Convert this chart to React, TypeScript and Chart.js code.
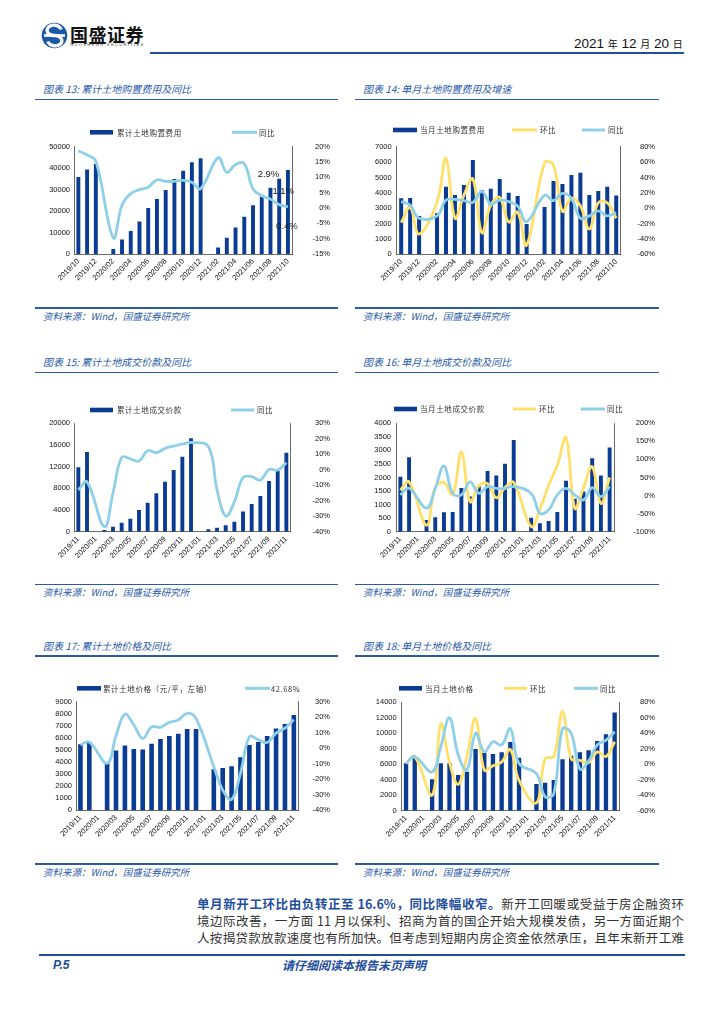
import React, { useEffect, useRef } from 'react';
import { Chart, registerables } from 'chart.js';
Chart.register(...registerables);

const NAVY = '#0b3c93';
const SKY = '#8fd0e8';
const GOLD = '#ffe06a';
const PAGE_BLUE = '#2a5aa8';
const AXIS = '#444';
const CJK = "'Noto Sans CJK SC', 'Noto Sans', sans-serif";
const LATIN = "'Liberation Sans', Arial, sans-serif";

// ---------- categories ----------
const monthsOct = ['2019/10','2019/11','2019/12','2020/01','2020/02','2020/03','2020/04','2020/05','2020/06','2020/07','2020/08','2020/09','2020/10','2020/11','2020/12','2021/01','2021/02','2021/03','2021/04','2021/05','2021/06','2021/07','2021/08','2021/09','2021/10'];
const monthsNov = ['2019/11','2019/12','2020/01','2020/02','2020/03','2020/04','2020/05','2020/06','2020/07','2020/08','2020/09','2020/10','2020/11','2020/12','2021/01','2021/02','2021/03','2021/04','2021/05','2021/06','2021/07','2021/08','2021/09','2021/10','2021/11'];

// ---------- chart 13: cumulative land purchase cost ----------
const c13Cost = [35900, 39400, 41900, null, 2300, 6800, 10700, 15100, 21400, 25600, 29800, 34900, 38800, 42700, 44600, null, 3000, 7600, 12300, 17400, 22700, 26700, 30900, 35100, 39100];
const c13Yoy = [18.7, 17.3, 15.3, null, -9.7, 1.0, 4.7, 6.0, 6.8, 9.2, 8.7, 8.7, 9.0, 8.4, 6.3, null, 16.4, 11.6, 14.2, 14.5, 6.2, 4.0, 2.9, 1.1, 0.4];
const c13LeftTicks = { min: 0, max: 50000, step: 5000 };
const c13RightTicks = { min: -15, max: 20, step: 5 };

// ---------- chart 14: monthly land purchase cost ----------
const c14Cost = [3640, 3660, 2490, null, 2670, 4400, 3860, 4510, 6140, 4190, 4270, 4900, 4010, 3800, 1970, null, 3080, 4770, 4580, 5160, 5310, 3860, 4120, 4400, 3820];
const c14Mom = [-18.8, 1, -33.6, null, 8, 65, -13, 17, 38, -32, 4, 14, -18, -5, -48, null, 59, 56, -4, 13, 3, -27, 7, 7, -13];
const c14Yoy = [8.5, 4, -13, null, -10, 10.6, 11.5, 9.8, 7.6, 22, 5.4, 10.6, 8.5, 2.9, -17.5, null, 17, 9.8, 19.3, 12.8, -13, -10, -3.6, -10, -6];
const c14LeftTicks = { min: 0, max: 7000, step: 1000 };
const c14RightTicks = { min: -60, max: 80, step: 20 };

// ---------- chart 15: cumulative land transaction value ----------
const c15Value = [11880, 14700, null, 300, 920, 1660, 2400, 4000, 5350, 7080, 9230, 11380, 13850, 17230, null, 430, 740, 1170, 1850, 3750, 5100, 6580, 9350, 11260, 14580];
const c15Yoy = [-13, -7.8, null, -36.8, -15, 8, 7, 5.6, 12.3, 11, 13.8, 15.3, 16.6, 17.6, null, 15, -13, -30, -20.7, -5, -4.5, -6.7, 0.2, -0.2, 4.5];
const c15LeftTicks = { min: 0, max: 20000, step: 2000 };
const c15RightTicks = { min: -40, max: 30, step: 10 };

// ---------- chart 16: monthly land transaction value ----------
const c16Value = [2030, 2745, null, 430, 530, 714, 726, 1612, 1300, 1680, 2240, 2070, 2510, 3385, null, 515, 310, 395, 725, 1880, 1220, 1480, 2710, 2070, 3110];
const c16Mom = [15, 38, null, -82, 23, 36, 2, 121, -17, 27, 33, -6, 22, 36, null, -86, -38, 28, 84, 160, -35, 21, 80, -22, 50];
const c16Yoy = [2, 20, null, -35, 20, 82, 6, 2, 38, 6, 25, 20, 20, 25, null, 6, -49, -40, 2, 20, 2, -12, 22, -3, 25];
const c16LeftTicks = { min: 0, max: 4000, step: 500 };
const c16RightTicks = { min: -100, max: 200, step: 50 };

// ---------- chart 17: cumulative land price ----------
const c17Price = [5470, 5660, null, 3900, 4950, 5360, 5080, 5030, 5520, 5910, 6160, 6350, 6740, 6740, null, 3400, 3510, 3650, 4390, 5410, 5660, 6160, 6770, 7150, 7900];
const c17Yoy = [2.1, 4, null, -9.7, 8, 22, 15, 6.4, 13.7, 13.5, 16.7, 18.2, 22.5, 19.3, null, -12, -27, -33, -16, 7.5, 5.4, 3.7, 9.7, 12.9, 18.3];
const c17LeftTicks = { min: 0, max: 9000, step: 1000 };
const c17RightTicks = { min: -40, max: 30, step: 10 };

// ---------- chart 18: monthly land price ----------
const c18Price = [6120, 6770, null, 4050, 6120, 6120, 4610, 5040, 7970, 7500, 7330, 7540, 8880, 6850, null, 3450, 3620, 3970, 6640, 7110, 7540, 7800, 9010, 9870, 12670];
const c18Mom = [1, 10, null, -40, 52, 2, -26, 10, 59, -7.5, -2, 3, 19, -21, null, -50, 7, 10, 68, 7, 5, 2, 16, 10, 29];
const c18Yoy = [1, 10, null, -10, 23, 60, 12, -7.5, 40, 16, 29, 25, 46, 1, null, -12, -42, -38, 46, 40, -6, 4, 25, 31, 42];
const c18LeftTicks = { min: 0, max: 14000, step: 2000 };
const c18RightTicks = { min: -60, max: 80, step: 20 };

type Geo = {
  left: number; width: number;
  plotLeft: number; plotRight: number; plotTop: number; plotBottom: number;
  legendY: number; leftPad: number; rightPad: number;
};
type LegendItem = { x: number; w: number; tx: number };
type Series = { kind: 'bar' | 'line'; label: string; data: (number | null)[]; color: string };
type PointLabel = { index: number; dx: number; dy: number };

function makeLegendPlugin(items: LegendItem[], y: number, ox: number, oy: number) {
  return {
    id: 'sheetLegend',
    afterDraw(chart: any) {
      const ctx = chart.ctx as CanvasRenderingContext2D;
      ctx.save();
      ctx.font = `7.5px ${CJK}`;
      (ctx as any).letterSpacing = '0.6px';
      ctx.textBaseline = 'middle';
      chart.data.datasets.forEach((ds: any, i: number) => {
        const it = items[i];
        if (!it) return;
        const cy = y - oy;
        if (ds.type === 'bar') {
          ctx.fillStyle = ds.backgroundColor;
          ctx.fillRect(it.x - ox, cy - 2.3, it.w, 4.6);
        } else {
          ctx.strokeStyle = ds.borderColor;
          ctx.lineWidth = 3;
          ctx.beginPath();
          ctx.moveTo(it.x - ox, cy);
          ctx.lineTo(it.x - ox + it.w, cy);
          ctx.stroke();
        }
        ctx.fillStyle = '#333';
        ctx.fillText(ds.label, it.tx - ox, cy + 0.5);
      });
      ctx.restore();
    },
  };
}

function makePointLabelPlugin(datasetIndex: number, labels: PointLabel[]) {
  return {
    id: 'pointLabels',
    afterDatasetsDraw(chart: any) {
      const ctx = chart.ctx as CanvasRenderingContext2D;
      const meta = chart.getDatasetMeta(datasetIndex);
      const values = chart.data.datasets[datasetIndex].data;
      ctx.save();
      ctx.font = `9.5px ${LATIN}`;
      ctx.fillStyle = '#222';
      ctx.textAlign = 'center';
      ctx.textBaseline = 'middle';
      labels.forEach((l) => {
        const el = meta.data[l.index];
        const v = values[l.index];
        if (!el || v == null) return;
        ctx.fillText(`${Number(v).toFixed(1)}%`, el.x + l.dx, el.y + l.dy);
      });
      ctx.restore();
    },
  };
}

function DualChart(props: {
  geo: Geo; labels: string[]; series: Series[];
  leftTicks: { min: number; max: number; step: number };
  rightTicks: { min: number; max: number; step: number };
  legend: LegendItem[]; barPct: number; pointLabels?: PointLabel[];
}) {
  const ref = useRef<HTMLCanvasElement>(null);
  const g = props.geo;
  const canvasTop = Math.round(g.plotTop - 32);
  const canvasHeight = Math.round(g.plotBottom + 52) - canvasTop;

  useEffect(() => {
    const tickFont = { size: 7.5, family: LATIN };
    const nLines = props.series.filter((s) => s.kind === 'line').length;
    let lineOrder = nLines;
    const datasets: any[] = props.series.map((s) => {
      if (s.kind === 'bar') {
        return {
          type: 'bar', label: s.label, data: s.data, backgroundColor: s.color,
          yAxisID: 'y', order: 10, barPercentage: props.barPct, categoryPercentage: 1,
        };
      }
      lineOrder -= 1;
      return {
        type: 'line', label: s.label, data: s.data, borderColor: s.color, backgroundColor: s.color,
        borderWidth: 2.8, pointRadius: 0, tension: 0.4, spanGaps: true, fill: false,
        yAxisID: 'y1', order: lineOrder,
      };
    });
    const plugins: any[] = [makeLegendPlugin(props.legend, g.legendY, g.left, canvasTop)];
    if (props.pointLabels) {
      const idx = props.series.findIndex((s) => s.kind === 'line');
      plugins.push(makePointLabelPlugin(idx, props.pointLabels));
    }
    const chart = new Chart(ref.current as HTMLCanvasElement, {
      type: 'bar',
      data: { labels: props.labels, datasets },
      plugins,
      options: {
        animation: false,
        responsive: false,
        layout: { padding: { top: g.plotTop - canvasTop, left: 0, right: 0, bottom: 0 } },
        plugins: { legend: { display: false }, tooltip: { enabled: false } },
        scales: {
          x: {
            offset: true,
            grid: { display: false, drawTicks: false },
            border: { display: true, color: AXIS, width: 0.8 },
            ticks: {
              autoSkip: false, maxRotation: 45, minRotation: 45, padding: 3,
              font: tickFont, color: '#111',
              callback: function (this: any, v: any, i: number) {
                return i % 2 === 0 ? this.getLabelForValue(v) : '';
              },
            },
            afterFit: (s: any) => { s.height = canvasTop + canvasHeight - g.plotBottom; },
          },
          y: {
            position: 'left',
            min: props.leftTicks.min, max: props.leftTicks.max,
            grid: { display: false, drawTicks: false },
            border: { display: true, color: AXIS, width: 0.8 },
            ticks: {
              stepSize: props.leftTicks.step, padding: g.leftPad, font: tickFont, color: '#111',
              callback: (v: any) => String(Math.round(Number(v))),
            },
            afterFit: (s: any) => { s.width = g.plotLeft - g.left; },
          },
          y1: {
            position: 'right',
            min: props.rightTicks.min, max: props.rightTicks.max,
            grid: { display: false, drawTicks: false },
            border: { display: true, color: AXIS, width: 0.8 },
            ticks: {
              stepSize: props.rightTicks.step, padding: g.rightPad, font: tickFont, color: '#111',
              crossAlign: 'far',
              callback: (v: any) => `${Math.round(Number(v))}%`,
            },
            afterFit: (s: any) => { s.width = g.left + g.width - g.plotRight; },
          },
        },
      } as any,
    } as any);
    return () => chart.destroy();
  }, []);

  return (
    <canvas
      ref={ref}
      width={g.width}
      height={canvasHeight}
      style={{ position: 'absolute', left: g.left, top: canvasTop, width: g.width, height: canvasHeight }}
    />
  );
}

function Txt(props: { x: number; y: number; h?: number; style?: React.CSSProperties; children: React.ReactNode }) {
  const h = props.h ?? 14;
  return (
    <div style={{ position: 'absolute', left: props.x, top: props.y - h / 2, height: h, lineHeight: `${h}px`, whiteSpace: 'nowrap', ...props.style }}>
      {props.children}
    </div>
  );
}

function HLine(props: { x1: number; x2: number; y: number; t?: number; color?: string }) {
  const t = props.t ?? 1.5;
  return <div style={{ position: 'absolute', left: props.x1, top: props.y - t / 2, width: props.x2 - props.x1, height: t, background: props.color ?? PAGE_BLUE }} />;
}

const titleStyle: React.CSSProperties = { fontFamily: CJK, fontStyle: 'italic', fontSize: 10, color: PAGE_BLUE };
const sourceStyle: React.CSSProperties = { fontFamily: CJK, fontStyle: 'italic', fontSize: 9.5, color: PAGE_BLUE };

function Section(props: { lx: number; rx: number; titleY: number; lineY: number; srcLineY: number; title: string }) {
  return (
    <>
      <Txt x={props.lx + 8} y={props.titleY} style={titleStyle}>{props.title}</Txt>
      <HLine x1={props.lx} x2={props.rx} y={props.lineY} />
      <HLine x1={props.lx} x2={props.rx} y={props.srcLineY} />
      <Txt x={props.lx + 8} y={props.srcLineY + 7.5} style={sourceStyle}>资料来源：Wind，国盛证券研究所</Txt>
    </>
  );
}

const geo13: Geo = { left: 35, width: 295, plotLeft: 74, plotRight: 292.3, plotTop: 146.7, plotBottom: 254, legendY: 132.3, leftPad: 4, rightPad: 6.5 };
const geo14: Geo = { left: 355, width: 300, plotLeft: 396.7, plotRight: 620.7, plotTop: 146.7, plotBottom: 254.3, legendY: 130, leftPad: 5, rightPad: 4.5 };
const geo15: Geo = { left: 35, width: 295, plotLeft: 74, plotRight: 290.7, plotTop: 423.3, plotBottom: 531.7, legendY: 410, leftPad: 4, rightPad: 8 };
const geo16: Geo = { left: 355, width: 300, plotLeft: 396, plotRight: 614, plotTop: 423.3, plotBottom: 531.7, legendY: 409, leftPad: 5, rightPad: 7 };
const geo17: Geo = { left: 35, width: 295, plotLeft: 76, plotRight: 298.3, plotTop: 701.7, plotBottom: 810.3, legendY: 688.3, leftPad: 4, rightPad: 6 };
const geo18: Geo = { left: 355, width: 300, plotLeft: 401.7, plotRight: 619, plotTop: 702.3, plotBottom: 810.7, legendY: 688.3, leftPad: 5, rightPad: 6 };

export default function App() {
  const paraBase: React.CSSProperties = {
    position: 'absolute', left: 197, width: 487, height: 17, lineHeight: '17px',
    fontFamily: CJK, fontSize: 12.5, color: '#333', textAlign: 'justify', textAlignLast: 'justify' as any, whiteSpace: 'nowrap',
  };
  return (
    <div style={{ position: 'absolute', left: 0, top: 0, width: 724, height: 1024, background: '#fff', overflow: 'hidden' }}>
      {/* header */}
      <svg style={{ position: 'absolute', left: 41, top: 22 }} width={27} height={27} viewBox="0 0 27 27">
        <circle cx={13.5} cy={13.5} r={12.8} fill="#1d57a8" />
        <path d="M20 7.5 A7 5.2 0 1 0 13.5 13.5 A7 5.2 0 1 1 7 19.5" stroke="#fff" strokeWidth={3.4} fill="none" />
        <rect x={3} y={12.2} width={21} height={2.6} fill="#fff" />
      </svg>
      <Txt x={70} y={33.5} h={20} style={{ fontFamily: CJK, fontWeight: 700, fontSize: 18, color: '#111', letterSpacing: 0.5 }}>国盛证券</Txt>
      <Txt x={70} y={45} h={6} style={{ fontFamily: LATIN, fontSize: 4.2, color: '#444', letterSpacing: 1.25 }}>GUOSHENG SECURITIES</Txt>
      <Txt x={574} y={43} h={16} style={{ color: '#111' }}>
        <span style={{ fontFamily: "'Liberation Sans Narrow', 'Liberation Sans', sans-serif", fontSize: 13.5 }}>2021 </span>
        <span style={{ fontFamily: CJK, fontSize: 10 }}>年</span>
        <span style={{ fontFamily: "'Liberation Sans Narrow', 'Liberation Sans', sans-serif", fontSize: 13.5 }}> 12 </span>
        <span style={{ fontFamily: CJK, fontSize: 10 }}>月</span>
        <span style={{ fontFamily: "'Liberation Sans Narrow', 'Liberation Sans', sans-serif", fontSize: 13.5 }}> 20 </span>
        <span style={{ fontFamily: CJK, fontSize: 10 }}>日</span>
      </Txt>
      <HLine x1={150} x2={684} y={53} t={2} color="#1f4e9c" />

      {/* sections */}
      <Section lx={35} rx={338} titleY={89} lineY={99.5} srcLineY={308} title="图表 13: 累计土地购置费用及同比" />
      <Section lx={355} rx={659} titleY={89} lineY={99.5} srcLineY={308} title="图表 14: 单月土地购置费用及增速" />
      <Section lx={35} rx={338} titleY={362} lineY={372.5} srcLineY={584.5} title="图表 15: 累计土地成交价款及同比" />
      <Section lx={355} rx={659} titleY={362} lineY={372.5} srcLineY={584.5} title="图表 16: 单月土地成交价款及同比" />
      <Section lx={35} rx={338} titleY={646} lineY={656} srcLineY={864} title="图表 17: 累计土地价格及同比" />
      <Section lx={355} rx={659} titleY={646} lineY={656} srcLineY={864} title="图表 18: 单月土地价格及同比" />

      <DualChart geo={geo13} labels={monthsOct} leftTicks={c13LeftTicks} rightTicks={c13RightTicks} barPct={0.45}
        series={[
          { kind: 'bar', label: '累计土地购置费用', data: c13Cost, color: NAVY },
          { kind: 'line', label: '同比', data: c13Yoy, color: SKY },
        ]}
        legend={[{ x: 90, w: 23, tx: 117 }, { x: 232, w: 25, tx: 259 }]}
        pointLabels={[{ index: 22, dx: -2, dy: -25 }, { index: 23, dx: 4, dy: -13 }, { index: 24, dx: -1, dy: 20 }]}
      />
      <DualChart geo={geo14} labels={monthsOct} leftTicks={c14LeftTicks} rightTicks={c14RightTicks} barPct={0.45}
        series={[
          { kind: 'bar', label: '当月土地购置费用', data: c14Cost, color: NAVY },
          { kind: 'line', label: '环比', data: c14Mom, color: GOLD },
          { kind: 'line', label: '同比', data: c14Yoy, color: SKY },
        ]}
        legend={[{ x: 393, w: 24, tx: 420 }, { x: 512, w: 25, tx: 540 }, { x: 582, w: 23, tx: 608 }]}
      />
      <DualChart geo={geo15} labels={monthsNov} leftTicks={c15LeftTicks} rightTicks={c15RightTicks} barPct={0.45}
        series={[
          { kind: 'bar', label: '累计土地成交价款', data: c15Value, color: NAVY },
          { kind: 'line', label: '同比', data: c15Yoy, color: SKY },
        ]}
        legend={[{ x: 90, w: 23, tx: 117 }, { x: 231, w: 23, tx: 257 }]}
      />
      <DualChart geo={geo16} labels={monthsNov} leftTicks={c16LeftTicks} rightTicks={c16RightTicks} barPct={0.45}
        series={[
          { kind: 'bar', label: '当月土地成交价款', data: c16Value, color: NAVY },
          { kind: 'line', label: '环比', data: c16Mom, color: GOLD },
          { kind: 'line', label: '同比', data: c16Yoy, color: SKY },
        ]}
        legend={[{ x: 394, w: 23, tx: 420 }, { x: 513, w: 23, tx: 539 }, { x: 581, w: 24, tx: 607 }]}
      />
      <DualChart geo={geo17} labels={monthsNov} leftTicks={c17LeftTicks} rightTicks={c17RightTicks} barPct={0.52}
        series={[
          { kind: 'bar', label: '累计土地价格（元/平，左轴）', data: c17Price, color: NAVY },
          { kind: 'line', label: '42.68%', data: c17Yoy, color: SKY },
        ]}
        legend={[{ x: 77, w: 24, tx: 103 }, { x: 245, w: 25, tx: 271 }]}
      />
      <DualChart geo={geo18} labels={monthsNov} leftTicks={c18LeftTicks} rightTicks={c18RightTicks} barPct={0.5}
        series={[
          { kind: 'bar', label: '当月土地价格', data: c18Price, color: NAVY },
          { kind: 'line', label: '环比', data: c18Mom, color: GOLD },
          { kind: 'line', label: '同比', data: c18Yoy, color: SKY },
        ]}
        legend={[{ x: 399, w: 23, tx: 425 }, { x: 504, w: 23, tx: 530 }, { x: 574, w: 24, tx: 600 }]}
      />

      {/* paragraph */}
      <div style={{ ...paraBase, top: 894.5 }}>
        <span style={{ color: '#1f4e9c', fontWeight: 700 }}>单月新开工环比由负转正至 16.6%，同比降幅收窄。</span>新开工回暖或受益于房企融资环
      </div>
      <div style={{ ...paraBase, top: 911.5 }}>境边际改善，一方面 11 月以保利、招商为首的国企开始大规模发债，另一方面近期个</div>
      <div style={{ ...paraBase, top: 928.5 }}>人按揭贷款放款速度也有所加快。但考虑到短期内房企资金依然承压，且年末新开工难</div>

      {/* footer */}
      <HLine x1={39} x2={685} y={955} t={2} color="#1f4e9c" />
      <Txt x={53} y={964.5} style={{ fontFamily: LATIN, fontWeight: 700, fontStyle: 'italic', fontSize: 12, color: '#1f4e9c' }}>P.5</Txt>
      <Txt x={282} y={964.5} style={{ fontFamily: CJK, fontWeight: 700, fontStyle: 'italic', fontSize: 12, color: '#1f4e9c' }}>请仔细阅读本报告末页声明</Txt>
    </div>
  );
}
